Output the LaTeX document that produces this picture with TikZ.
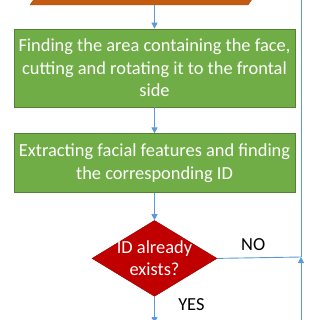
\documentclass[tikz,border=0pt]{standalone}
\usepackage{fontspec}
\setmainfont{Carlito}
\usepackage{xcolor}
\usepackage{tikz}
\usetikzlibrary{shapes.geometric, arrows.meta, positioning, calc}
\definecolor{inorange}{RGB}{197, 90, 17}
\definecolor{stepgreen}{RGB}{112, 173, 71}
\definecolor{stepborder}{RGB}{84, 130, 53}
\definecolor{askred}{RGB}{192, 0, 0}
\definecolor{askborder}{RGB}{150, 0, 0}
\definecolor{flowblue}{RGB}{91, 155, 213}
\tikzstyle{inbox} = [draw=inorange!80!black, fill=inorange]
\tikzstyle{stepbox} = [rectangle, minimum width=281pt, align=center, draw=stepborder, fill=stepgreen, text=white, line width=0.8pt, font=\fontsize{18.4}{22.4}\selectfont]
\tikzstyle{ask} = [diamond, aspect=1.64, minimum width=125pt, minimum height=76pt, inner sep=-4pt, align=center, draw=askborder, fill=askred, text=white, font=\fontsize{18.4}{22.4}\selectfont]
\tikzstyle{arrow} = [line width=0.9pt, ->, >={Triangle[length=6pt,width=6pt]}, color=flowblue]
\tikzstyle{flow} = [line width=0.9pt, color=flowblue]
\tikzstyle{answer} = [text=black, font=\fontsize{18.4}{22.4}\selectfont]

\begin{document}
\begin{tikzpicture}[x=1pt, y=-1pt, node distance=26pt]
    \clip (0,0) rectangle (320,320);
    \useasboundingbox (0,0) rectangle (320,320);
    % Input parallelogram (cut off at the top)
    \draw [inbox] (30,5) -- (248,5) -- ++(28,-40) -- ++(-218,0) -- cycle;
    \coordinate (input) at (139,5);
    % Nodes
    \node (crop) [stepbox, minimum height=78pt] at (154.5,68) {Finding the area containing the face,\\cutting and rotating it to the frontal\\side};
    \node (features) [stepbox, minimum height=59pt, below=of crop] {Extracting facial features and finding\\the corresponding ID};
    \node (decide) [ask, below=27pt of features] {ID already\\exists?};

    % Loop line on the right
    \coordinate (merge) at (301,257);
    \coordinate (looptop) at (301,-10);
    \coordinate (loopin) at (301,330);
    \coordinate (yesout) at (154.5,323);

    % Arrows
    \draw [arrow] (input -| crop.north) -- (crop.north);
    \draw [arrow] (crop) -- (features);
    \draw [arrow] (features) -- (decide);
    \draw [flow] (decide.east) -- node[answer, pos=0.43, above=3pt] {NO} (merge);
    \draw [arrow] (loopin) -- (merge);
    \draw [flow] (merge) -- (looptop);
    \draw [arrow] (decide.south) -- node[answer, pos=0.3, right=20pt] {YES} (yesout);
\end{tikzpicture}
\end{document}
